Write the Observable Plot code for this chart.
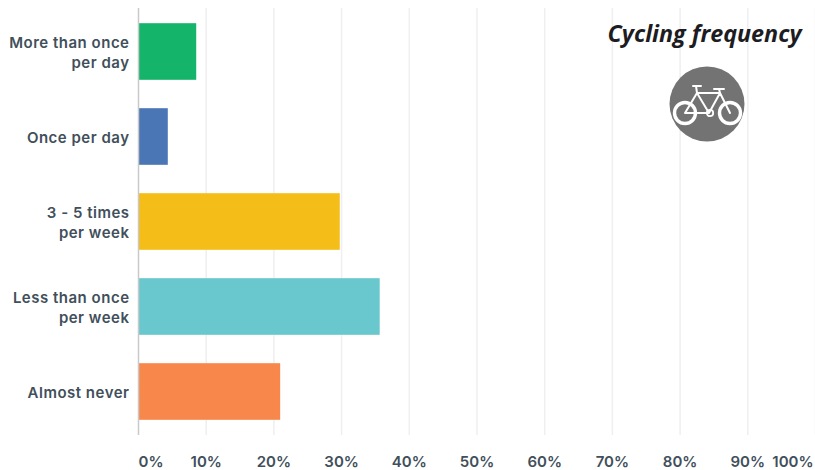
<!DOCTYPE html>
<html>
<head>
<meta charset="utf-8">
<script src="https://cdn.jsdelivr.net/npm/d3@7"></script>
<script src="https://cdn.jsdelivr.net/npm/@observablehq/plot@0.6"></script>
<style>
  html, body { margin: 0; padding: 0; background: #fff; }
  svg { display: block; }
  g[aria-label="y-axis tick label"] { letter-spacing: 0.5px; }
</style>
</head>
<body>
<div id="chart"></div>
<script>
// Survey answers: share of respondents per cycling frequency
const categories = ["More than once\nper day", "Once per day", "3 - 5 times\nper week", "Less than once\nper week", "Almost never"];
const shares = [8.6, 4.4, 29.8, 35.7, 21];
const barColors = ["#14b46a", "#4a76b5", "#f5bd17", "#68c8cd", "#f7874a"];
const ticks = [0, 10, 20, 30, 40, 50, 60, 70, 80, 90, 100];
const chartTitle = "Cycling frequency";

const rows = categories.map((category, i) => ({category, share: shares[i], color: barColors[i]}));
const labelColor = "#414f5b";
const labelFont = {fontFamily: "Inter", fontWeight: 600, fontSize: 15, fill: labelColor};
const tickRow = {frameAnchor: "bottom", dy: 31, x: (t) => t, text: (t) => `${t}%`, ...labelFont};

// Round bicycle badge in the upper right of the plot
function bicycleBadge() {
  const g = d3.create("svg:g").attr("transform", "translate(707,104)");
  g.append("circle").attr("r", 37.5).attr("fill", "#737373");
  const line = g.append("g").attr("fill", "none").attr("stroke", "#fff").attr("stroke-linecap", "round").attr("stroke-linejoin", "round");
  line.append("circle").attr("cx", -22).attr("cy", 9).attr("r", 10.5).attr("stroke-width", 3.4);
  line.append("circle").attr("cx", 23).attr("cy", 9).attr("r", 10.5).attr("stroke-width", 3.4);
  line.append("path").attr("stroke-width", 2)
    .attr("d", "M-22 9L-10 -11L13 -11L23 9M-10 -11L2 9L13 -11M-22 9L2 9M-14 -18L-6 -18M-11 -18L-10 -11M13 -11L12 -15M7 -15L17 -15");
  line.append("circle").attr("cx", 3).attr("cy", 9).attr("r", 3.2).attr("stroke-width", 1.8);
  return g.node();
}

const plot = Plot.plot({
  width: 815,
  height: 470,
  marginLeft: 138,
  marginRight: 0,
  marginTop: 8,
  marginBottom: 35,
  style: {background: "#fff"},
  x: {domain: [0, 100], axis: null},
  y: {domain: categories, padding: 0, axis: null},
  marks: [
    Plot.ruleX(ticks.slice(1), {stroke: "#efefef", strokeWidth: 1.5}),
    Plot.barX(rows, {x: "share", y: "category", fill: "color", insetTop: 14.2, insetBottom: 14.2}),
    Plot.ruleX([0], {stroke: "#c9c9c9", strokeWidth: 1.5}),
    Plot.ruleY([0], {frameAnchor: "bottom", stroke: "#cfcfcf", strokeWidth: 1.5}),
    Plot.axisY({
      tickSize: 0,
      tickPadding: 9,
      label: null,
      lineHeight: 1.33,
      ...labelFont
    }),
    Plot.text(ticks.filter((t) => t > 0 && t < 100), tickRow),
    Plot.text([0], {...tickRow, textAnchor: "start"}),
    Plot.text([100], {...tickRow, textAnchor: "end", dx: -2}),
    Plot.text([chartTitle], {
      frameAnchor: "top-right", textAnchor: "end", dx: -14, dy: 17,
      fontFamily: "Open Sans", fontWeight: 700, fontStyle: "italic", fontSize: 23.3, fill: "#1c1c22"
    }),
    bicycleBadge
  ]
});
document.getElementById("chart").append(plot);
</script>
</body>
</html>
